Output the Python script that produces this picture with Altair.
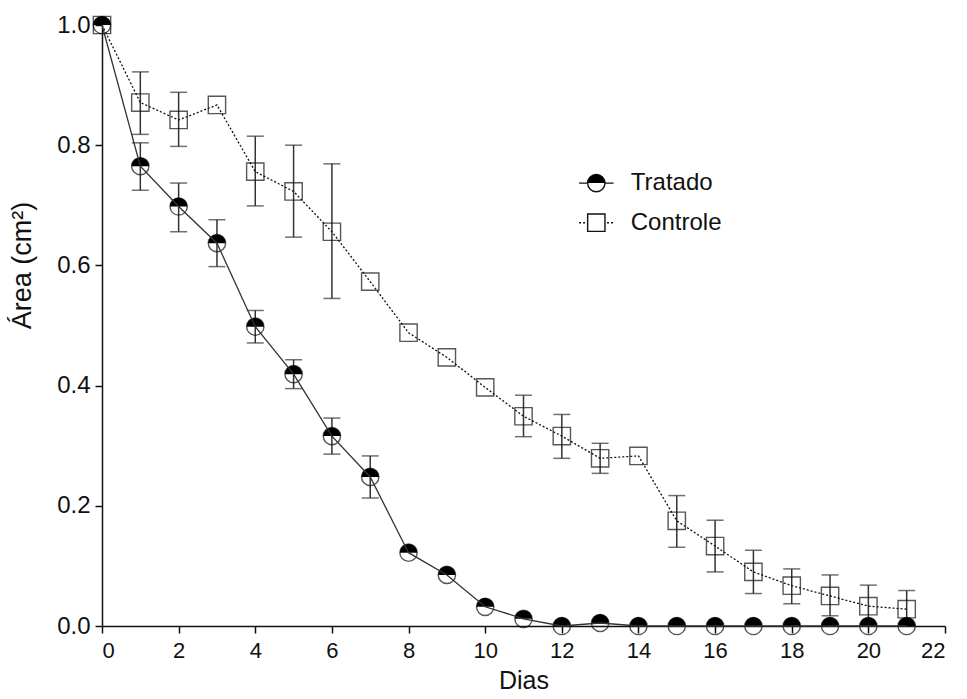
import altair as alt
import pandas as pd

# ---- data ----
days = list(range(22))
tratado = [1.0, 0.765, 0.698, 0.637, 0.498, 0.419, 0.316, 0.248, 0.122, 0.085,
           0.032, 0.012, 0.0, 0.005, 0.0, 0.0, 0.0, 0.0, 0.0, 0.0, 0.0, 0.0]
tratado_lo = [None, 0.725, 0.656, 0.598, 0.471, 0.395, 0.286, 0.213] + [None] * 14
tratado_hi = [None, 0.804, 0.737, 0.676, 0.525, 0.443, 0.346, 0.283] + [None] * 14

controle = [1.0, 0.871, 0.842, 0.867, 0.756, 0.723, 0.656, 0.573, 0.488, 0.447,
            0.397, 0.349, 0.316, 0.279, 0.283, 0.175, 0.133, 0.090, 0.067, 0.050,
            0.033, 0.028]
controle_lo = [None, 0.818, 0.798, None, 0.699, 0.647, 0.545, None, None, None,
               None, 0.315, 0.279, 0.254, None, 0.131, 0.090, 0.054, 0.037, 0.017,
               0.0, 0.0]
controle_hi = [None, 0.922, 0.888, None, 0.815, 0.800, 0.769, None, None, None,
               None, 0.384, 0.352, 0.304, None, 0.217, 0.176, 0.126, 0.095, 0.085,
               0.068, 0.059]

series_names = ["Tratado", "Controle"]
x_ticks = list(range(0, 23, 2))
y_ticks = [0.0, 0.2, 0.4, 0.6, 0.8, 1.0]

# legend placement in data units
leg_x_line = [12.45, 13.35]
leg_x_sym = 12.9
leg_x_text = 13.8
leg_y = [0.737, 0.671]

df_t = pd.DataFrame({"dia": days, "area": tratado, "lo": tratado_lo, "hi": tratado_hi})
df_c = pd.DataFrame({"dia": days, "area": controle, "lo": controle_lo, "hi": controle_hi})
err_t = df_t.dropna(subset=["lo"])
err_c = df_c.dropna(subset=["lo"])

HALF_TOP = "M -1 0 A 1 1 0 0 1 1 0 Z"
MSIZE = 300
INK = "#111111"
FONT = "Liberation Sans"

xscale = alt.Scale(domain=[0, 22], nice=False, zero=False)
yscale = alt.Scale(domain=[0, 1.0], nice=False)

X = alt.X("dia:Q", scale=xscale,
          axis=alt.Axis(values=x_ticks, title="Dias", format="d",
                        labelFontSize=22, labelFont=FONT))
Y = alt.Y("area:Q", scale=yscale,
          axis=alt.Axis(values=y_ticks, title="Área  (cm²)", format=".1f",
                        titleY=240))

XS = alt.X("dia:Q", scale=xscale)
YA = alt.Y("area:Q", scale=yscale)

def errbars(df):
    rules = alt.Chart(df).mark_rule(color="#333333", strokeWidth=1.5).encode(
        x=XS, y=alt.Y("lo:Q", scale=yscale), y2="hi:Q")
    cap_lo = alt.Chart(df).mark_tick(color="#333333", thickness=1.5, size=17,
                                     orient="horizontal").encode(
        x=XS, y=alt.Y("lo:Q", scale=yscale))
    cap_hi = alt.Chart(df).mark_tick(color="#333333", thickness=1.5, size=17,
                                     orient="horizontal").encode(
        x=XS, y=alt.Y("hi:Q", scale=yscale))
    return rules + cap_lo + cap_hi

base_axes = alt.Chart(df_c).mark_point(opacity=0).encode(x=X, y=Y)

squares = alt.Chart(df_c).mark_point(shape="square", filled=False, size=MSIZE,
                                     color=INK, strokeWidth=1.4).encode(x=XS, y=YA)
circles = alt.Chart(df_t).mark_point(shape="circle", filled=False, size=MSIZE,
                                     color=INK, strokeWidth=1.4).encode(x=XS, y=YA)
halves = alt.Chart(df_t).mark_point(shape=HALF_TOP, filled=True, size=MSIZE,
                                    color="#000000", opacity=1, strokeWidth=0).encode(x=XS, y=YA)

line_c = alt.Chart(df_c).mark_line(color=INK, strokeWidth=1.3, strokeDash=[2, 2]).encode(x=XS, y=YA)
line_t = alt.Chart(df_t).mark_line(color="#333333", strokeWidth=1.3).encode(x=XS, y=YA)

# ---- legend ----
leg_lines = pd.DataFrame({
    "serie": [series_names[0]] * 2 + [series_names[1]] * 2,
    "lx": leg_x_line * 2,
    "ly": [leg_y[0]] * 2 + [leg_y[1]] * 2,
})
leg_pts = pd.DataFrame({"serie": series_names, "lx": [leg_x_sym] * 2, "ly": leg_y,
                        "tx": [leg_x_text] * 2})

LX = alt.X("lx:Q", scale=xscale)
LY = alt.Y("ly:Q", scale=yscale)

leg_line_t = alt.Chart(leg_lines[leg_lines.serie == "Tratado"]).mark_line(
    color=INK, strokeWidth=1.3).encode(x=LX, y=LY)
leg_line_c = alt.Chart(leg_lines[leg_lines.serie == "Controle"]).mark_line(
    color=INK, strokeWidth=1.3, strokeDash=[2, 2]).encode(x=LX, y=LY)
leg_circle = alt.Chart(leg_pts[leg_pts.serie == "Tratado"]).mark_point(
    shape="circle", filled=True, fill="white", stroke=INK, size=MSIZE,
    strokeWidth=1.4, opacity=1).encode(x=LX, y=LY)
leg_half = alt.Chart(leg_pts[leg_pts.serie == "Tratado"]).mark_point(
    shape=HALF_TOP, filled=True, color="#000000", size=MSIZE, opacity=1).encode(x=LX, y=LY)
leg_square = alt.Chart(leg_pts[leg_pts.serie == "Controle"]).mark_point(
    shape="square", filled=True, fill="white", stroke=INK, size=MSIZE,
    strokeWidth=1.4, opacity=1).encode(x=LX, y=LY)
leg_text = alt.Chart(leg_pts).mark_text(align="left", baseline="middle",
                                        font=FONT, fontSize=24, color=INK).encode(
    x=alt.X("tx:Q", scale=xscale), y=LY, text="serie:N")

chart = alt.layer(
    base_axes,
    errbars(err_c), errbars(err_t),
    squares, circles, halves,
    line_c, line_t,
    leg_line_t, leg_line_c, leg_circle, leg_half, leg_square, leg_text,
).properties(
    width=843, height=601,
    autosize=alt.AutoSizeParams(type="none"),
    padding={"left": 102, "top": 25, "right": 22, "bottom": 73},
).configure_view(stroke=None).configure_axis(
    domainColor=INK, tickColor=INK, labelColor=INK, titleColor=INK,
    domainWidth=1.5, tickWidth=1.5, tickSize=7, grid=False,
    labelFont=FONT, titleFont=FONT, titleFontWeight="normal",
).configure_axisX(
    labelFontSize=22, titleFontSize=25, labelPadding=7, titlePadding=7,
).configure_axisY(
    labelFontSize=24, titleFontSize=27, labelPadding=5, titlePadding=20,
).configure_text(font=FONT)

chart.save("out.html", embed_options={"renderer": "svg", "actions": False})
